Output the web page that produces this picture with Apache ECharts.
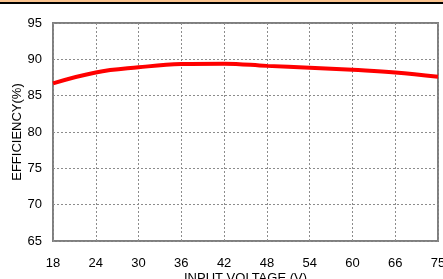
<!DOCTYPE html>
<html>
<head>
<meta charset="utf-8">
<script src="https://cdn.jsdelivr.net/npm/echarts@6/dist/echarts.min.js"></script>
<style>
html, body { margin: 0; padding: 0; background: #fff; }
#chart { width: 443px; height: 279px; }
</style>
</head>
<body>
<div id="chart"></div>
<script>
// input voltage tick labels (last one printed as 75 in the original)
var voltLabels = ["18", "24", "30", "36", "42", "48", "54", "60", "66", "75"];
// efficiency at each tick
var efficiency = [86.7, 88.2, 88.9, 89.35, 89.4, 89.1, 88.85, 88.55, 88.2, 87.6];

var chart = echarts.init(document.getElementById("chart"));
var font = "Liberation Sans, Arial, sans-serif";
chart.setOption({
    animation: false,
    grid: { left: 53, right: 5, top: 23, bottom: 38, show: true, borderColor: "#7f7f7f", borderWidth: 2,
            containLabel: false, outerBoundsMode: "none" },
    graphic: [
        { type: "rect", shape: { x: 0, y: 0, width: 443, height: 2 }, style: { fill: "#fbc490" } },
        { type: "rect", shape: { x: 0, y: 2, width: 443, height: 2 }, style: { fill: "#000" } }
    ],
    xAxis: {
        type: "category",
        data: voltLabels,
        boundaryGap: false,
        name: "INPUT VOLTAGE (V)",
        nameLocation: "middle",
        nameGap: 31,
        nameMoveOverlap: false,
        nameTextStyle: { color: "#000", fontSize: 13, fontFamily: font },
        axisLine: { show: false },
        axisTick: { show: false },
        axisLabel: { color: "#000", fontSize: 13, fontFamily: font, margin: 16 },
        splitLine: { show: true, lineStyle: { color: "#8c8c8c", type: [2, 2], width: 1 } }
    },
    yAxis: {
        type: "value",
        min: 65,
        max: 95,
        interval: 5,
        name: "EFFICIENCY(%)",
        nameLocation: "middle",
        nameGap: 29,
        nameMoveOverlap: false,
        nameTextStyle: { color: "#000", fontSize: 13, fontFamily: font },
        axisLine: { show: false },
        axisTick: { show: false },
        axisLabel: { color: "#000", fontSize: 13, fontFamily: font, margin: 11 },
        splitLine: { show: true, lineStyle: { color: "#8c8c8c", type: [2, 2], width: 1 } }
    },
    series: [{
        type: "line",
        data: efficiency,
        smooth: 0.4,
        symbol: "none",
        lineStyle: { color: "#ff0000", width: 4 }
    }]
});
</script>
</body>
</html>
